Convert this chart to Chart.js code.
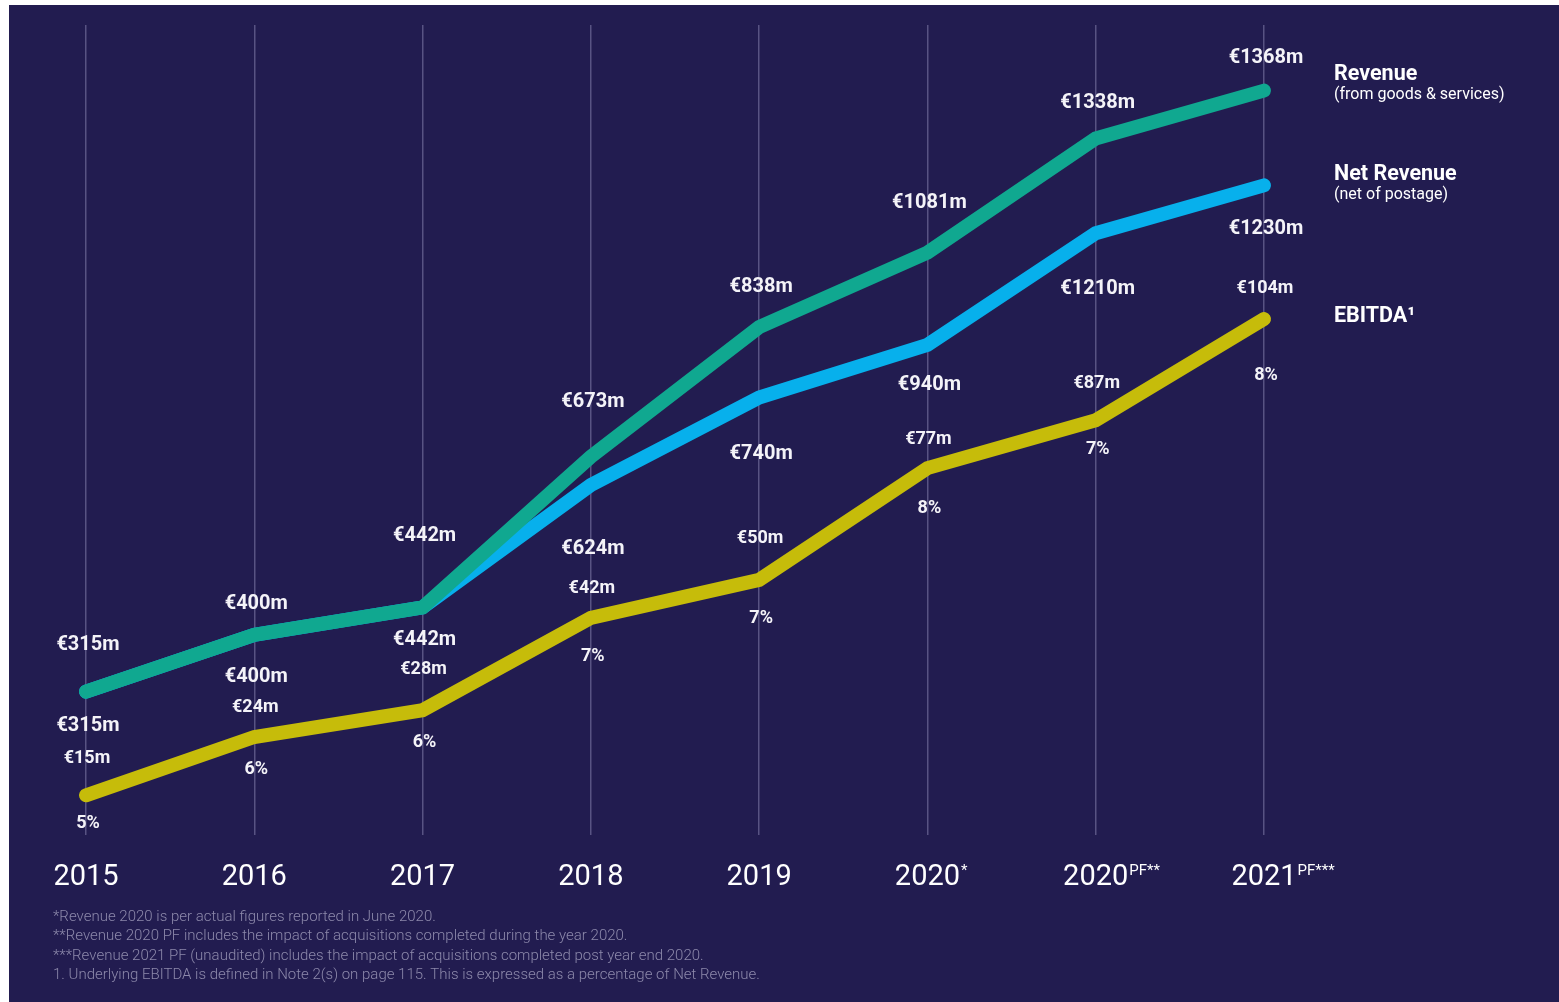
<!DOCTYPE html>
<html lang="en">
<head>
<meta charset="UTF-8">
<title>Revenue, Net Revenue and EBITDA</title>
<script src="https://cdn.jsdelivr.net/npm/chart.js"></script>
<style>
    html, body { margin: 0; padding: 0; background: #ffffff; }
    canvas { display: block; }
</style>
</head>
<body>
<canvas id="chart" width="1559" height="1002"></canvas>

<script>
// categories
const years = ['2015', '2016', '2017', '2018', '2019', '2020', '2020', '2021'];
const yearSuffix = ['', '', '', '', '', '*', 'PF**', 'PF***'];

// line heights as drawn in the graphic (illustrative level, 0-100)
const revenueLevel = [17.7, 24.7, 28.1, 46.7, 62.7, 71.9, 86.0, 91.9];
const netRevenueLevel = [17.7, 24.7, 28.1, 43.2, 54.0, 60.5, 74.3, 80.2];
const ebitdaLevel = [4.9, 12.1, 15.4, 26.8, 31.5, 45.3, 51.2, 63.7];

// printed values
const revenueText = ['€315m', '€400m', '€442m', '€673m', '€838m', '€1081m', '€1338m', '€1368m'];
const netRevenueText = ['€315m', '€400m', '€442m', '€624m', '€740m', '€940m', '€1210m', '€1230m'];
const ebitdaText = ['€15m', '€24m', '€28m', '€42m', '€50m', '€77m', '€87m', '€104m'];
const ebitdaMargin = ['5%', '6%', '6%', '7%', '7%', '8%', '7%', '8%'];

const footnotes = [
    '*Revenue 2020 is per actual figures reported in June 2020.',
    '**Revenue 2020 PF includes the impact of acquisitions completed during the year 2020.',
    '***Revenue 2021 PF (unaudited) includes the impact of acquisitions completed post year end 2020.',
    '1. Underlying EBITDA is defined in Note 2(s) on page 115. This is expressed as a percentage of Net Revenue.'
];

// label offsets from the line (px), kept apart from the data
const revDy = [-47, -31, -71, -55, -40, -50, -35, -33];
const netDy = [34, 42, 33, 64, 56, 40, 56, 44];
const ebitDy = [-37, -29, -41, -29, -41, -29, -37, -31];
const pctDy = [28, 33, 32, 39, 39, 40, 29, 56];

const BG = '#221c50';
const TEAL = '#10a890';
const BLUE = '#07b0ec';
const OLIVE = '#c6bc0a';

const backgroundPlugin = {
    id: 'bg',
    beforeDraw(chart) {
        const ctx = chart.ctx;
        ctx.save();
        ctx.fillStyle = '#ffffff';
        ctx.fillRect(0, 0, chart.width, chart.height);
        ctx.fillStyle = BG;
        ctx.fillRect(9, 5, chart.width - 9, chart.height - 5);
        ctx.restore();
    }
};

const textPlugin = {
    id: 'texts',
    afterDatasetsDraw(chart) {
        const ctx = chart.ctx;
        const x = chart.scales.x;
        const y = chart.scales.y;
        ctx.save();
        ctx.fillStyle = '#f4f3f8';
        ctx.textAlign = 'center';
        ctx.textBaseline = 'middle';

        years.forEach((yr, i) => {
            const px = x.getPixelForValue(i);
            ctx.font = 'bold 20px Roboto';
            ctx.fillText(revenueText[i], px + 2, y.getPixelForValue(revenueLevel[i]) + revDy[i]);
            ctx.fillText(netRevenueText[i], px + 2, y.getPixelForValue(netRevenueLevel[i]) + netDy[i]);
            ctx.font = 'bold 18px Roboto';
            ctx.fillText(ebitdaText[i], px + 1, y.getPixelForValue(ebitdaLevel[i]) + ebitDy[i]);
            ctx.fillText(ebitdaMargin[i], px + 2, y.getPixelForValue(ebitdaLevel[i]) + pctDy[i]);
        });

        // year labels with superscripts
        ctx.fillStyle = '#ffffff';
        years.forEach((yr, i) => {
            const px = x.getPixelForValue(i);
            ctx.font = '29px Roboto';
            ctx.textAlign = 'center';
            ctx.textBaseline = 'alphabetic';
            ctx.fillText(yr, px, 885);
            if (yearSuffix[i]) {
                const w = ctx.measureText(yr).width;
                ctx.font = '15px Roboto';
                ctx.textAlign = 'left';
                ctx.fillText(yearSuffix[i], px + w / 2 + 1, 875);
            }
        });

        // legend labels at the right end
        ctx.textAlign = 'left';
        ctx.textBaseline = 'alphabetic';
        ctx.font = 'bold 21.5px Roboto';
        ctx.fillText('Revenue', 1334, 80);
        ctx.fillText('Net Revenue', 1334, 180);
        ctx.fillText('EBITDA¹', 1334, 322);
        ctx.font = '16px Roboto';
        ctx.fillText('(from goods & services)', 1334, 99);
        ctx.fillText('(net of postage)', 1334, 199);

        // footnotes
        ctx.fillStyle = '#8d89ab';
        ctx.font = '300 15px Roboto';
        ctx.textBaseline = 'middle';
        footnotes.forEach((t, i) => ctx.fillText(t, 53, 917 + i * 19.4));
        ctx.restore();
    }
};

function lineSet(label, data, color) {
    return {
        label: label,
        data: data,
        borderColor: color,
        backgroundColor: color,
        borderWidth: 14,
        borderCapStyle: 'round',
        borderJoinStyle: 'miter',
        pointRadius: 0,
        tension: 0,
        clip: false
    };
}

new Chart(document.getElementById('chart'), {
    type: 'line',
    data: {
        labels: years.map((y, i) => y + yearSuffix[i]),
        datasets: [
            lineSet('Revenue', revenueLevel, TEAL),
            lineSet('Net Revenue', netRevenueLevel, BLUE),
            lineSet('EBITDA', ebitdaLevel, OLIVE)
        ]
    },
    options: {
        responsive: false,
        animation: false,
        devicePixelRatio: 1,
        layout: { padding: { left: 86, right: 295, top: 25, bottom: 167 } },
        plugins: { legend: { display: false }, tooltip: { enabled: false } },
        scales: {
            x: {
                offset: false,
                ticks: { display: false },
                border: { display: false },
                grid: { color: 'rgba(190, 185, 225, 0.35)', lineWidth: 1.5, drawTicks: false }
            },
            y: { display: false, min: 0, max: 100 }
        }
    },
    plugins: [backgroundPlugin, textPlugin]
});
</script>
</body>
</html>
